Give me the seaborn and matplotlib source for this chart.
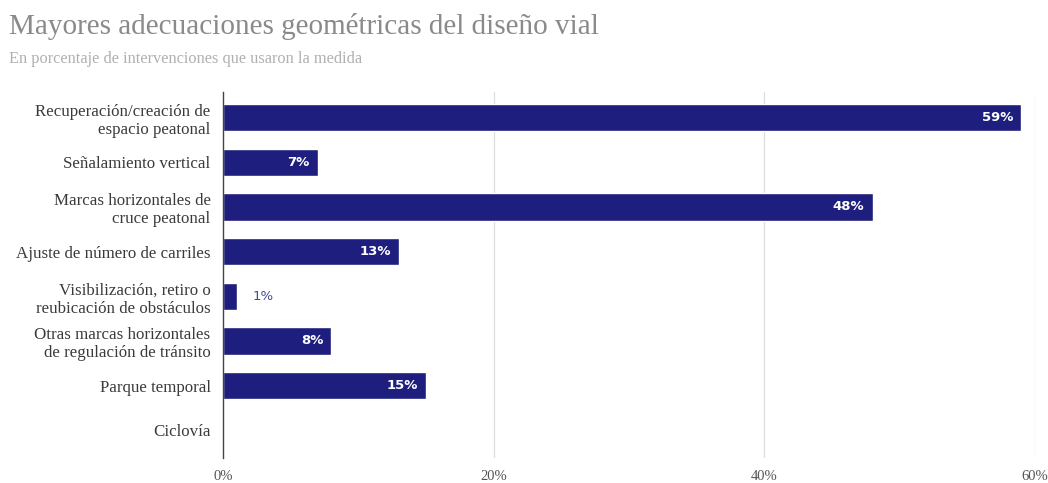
import matplotlib
matplotlib.use("Agg")
import matplotlib.pyplot as plt
import seaborn as sns
import pandas as pd

categories = [
    "Recuperación/creación de\nespacio peatonal",
    "Señalamiento vertical",
    "Marcas horizontales de\ncruce peatonal",
    "Ajuste de número de carriles",
    "Visibilización, retiro o\nreubicación de obstáculos",
    "Otras marcas horizontales\nde regulación de tránsito",
    "Parque temporal",
    "Ciclovía",
]
values = [59, 7, 48, 13, 1, 8, 15, 0]
x_ticks = [0, 20, 40, 60]

df = pd.DataFrame({"medida": categories, "pct": values})

sns.set_theme(style="white")
plt.rcParams["font.family"] = ["Liberation Serif", "DejaVu Serif"]

BAR = "#1e1e7e"
fig = plt.figure(figsize=(10.48, 4.83), dpi=100)
ax = fig.add_axes([0.2128, 0.052, 0.7748, 0.758])

sns.barplot(data=df, x="pct", y="medida", color=BAR, saturation=1,
            width=0.61, ax=ax, orient="h")

ax.set_xlim(0, 60)
ax.set_ylim(len(categories) - 0.38, -0.58)
ax.set_xticks(x_ticks)
ax.set_xticklabels([f"{t}%" for t in x_ticks], color="#555555", fontsize=10.5)
ax.tick_params(axis="x", length=0, pad=9)
ax.tick_params(axis="y", length=0, pad=9, labelsize=12.2, labelcolor="#3a3a3a")
ax.set_xlabel("")
ax.set_ylabel("")
for s in ["top", "right", "bottom"]:
    ax.spines[s].set_visible(False)
ax.spines["left"].set_color("#444444")
ax.spines["left"].set_linewidth(1.0)
for t in x_ticks[1:]:
    ax.axvline(t, color="#dddddd", lw=0.9, zorder=0)

for i, v in enumerate(values):
    if v == 0:
        continue
    lbl = f"{v}%"
    if v >= 4:
        ax.text(v - 0.6, i, lbl, ha="right", va="center", color="white",
                fontsize=9.5, fontweight="bold", family="DejaVu Sans")
    else:
        ax.text(v + 1.2, i, lbl, ha="left", va="center", color="#4646a0",
                fontsize=9.5, family="DejaVu Sans")

fig.text(0.009, 0.930, "Mayores adecuaciones geométricas del diseño vial",
         fontsize=21, color="#8a8a8a", va="baseline")
fig.text(0.009, 0.870, "En porcentaje de intervenciones que usaron la medida",
         fontsize=11.8, color="#b0b0b0", va="baseline")

fig.savefig("out.png", dpi=100, facecolor="white")
